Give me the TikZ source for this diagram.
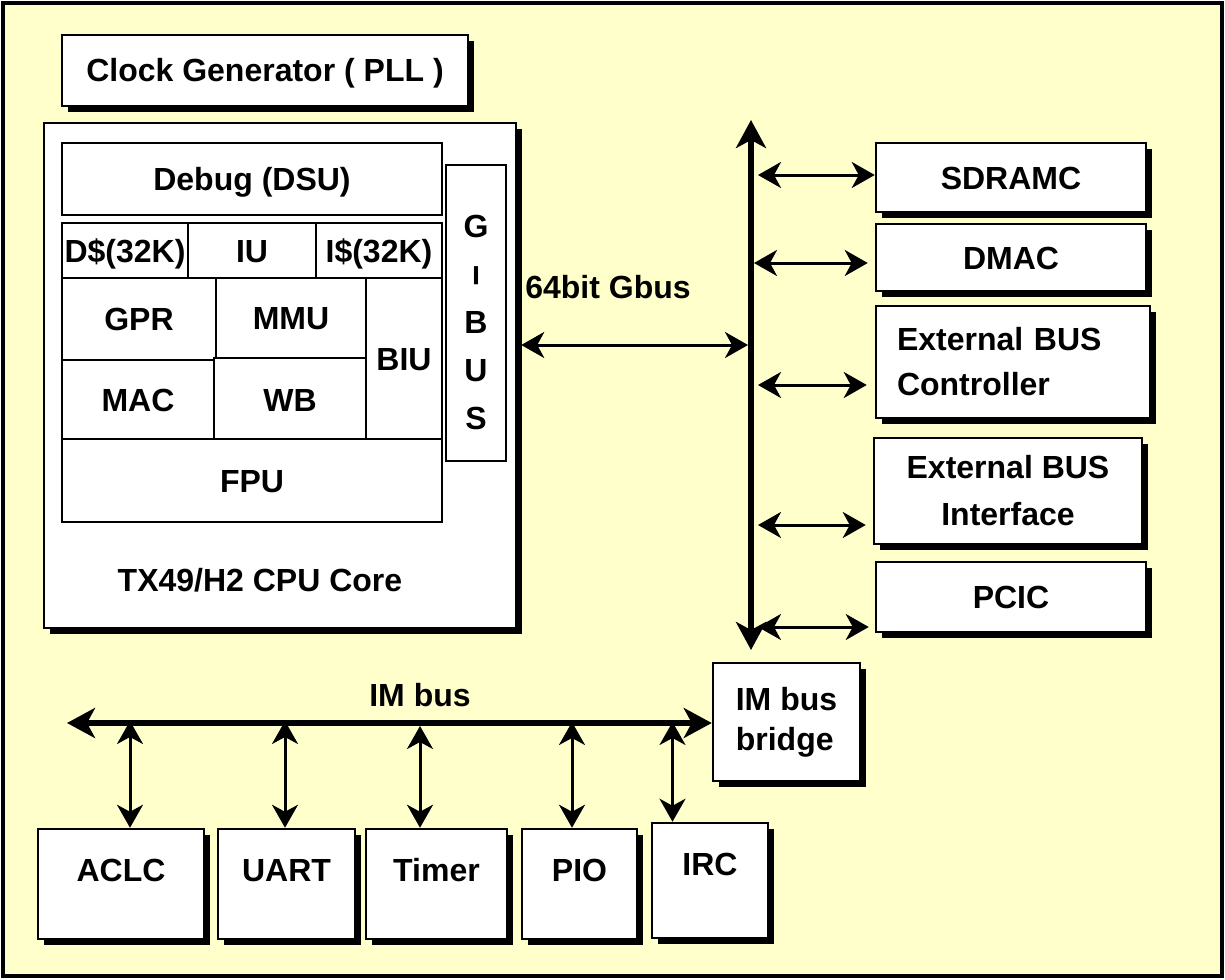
\documentclass[tikz,border=0pt]{standalone}
\usepackage{fontspec}
\setmainfont{Liberation Sans}
\usepackage{tikz}
\usetikzlibrary{arrows.meta}
\usetikzlibrary{shadows}
\usetikzlibrary{calc}
\definecolor{paper}{HTML}{FFFFCC}

\begin{document}
\begin{tikzpicture}[x=0.5pt, y=-0.5pt,
			every node/.style={font=\bfseries\fontsize{16}{20}\selectfont, align=center, inner sep=0pt},
			block/.style={draw, line width=1.25pt, fill=white, drop shadow={shadow xshift=3pt, shadow yshift=-3pt, opacity=1, fill=black}},
			unit/.style={draw, line width=1pt, fill=white},
			oneline/.style={text height=11.5pt, text depth=0pt},
			lowtext/.style={text height=11.5pt, text depth=14pt},
			link/.style={line width=1.5pt, {Stealth[length=11.5pt, width=13pt, inset=3.5pt]}-{Stealth[length=11.5pt, width=13pt, inset=3.5pt]}},
			bus/.style={line width=3pt, {Stealth[length=14pt, width=15pt, inset=4pt]}-{Stealth[length=14pt, width=15pt, inset=4pt]}}]
			\useasboundingbox (0,0) rectangle (1225,979);
			\draw[line width=2pt, fill=paper] (3,3) rectangle (1222,976);

			% CPU side
			\node[block, oneline, minimum width=203pt, minimum height=35.5pt] (clk) at (265,70.5) {Clock Generator ( PLL )};
			\node[block, minimum width=236pt, minimum height=252.5pt] (cpu) at (280,375.5) {};
			\node (corename) at (260,580) {TX49/H2 CPU Core};

			\node[unit, oneline, minimum width=190pt, minimum height=36pt] (dsu) at (252,179) {Debug (DSU)};
			\node[unit, oneline, minimum width=63pt, minimum height=27.5pt] (dcache) at (125,250.5) {D\$(32K)};
			\node[unit, oneline, minimum width=64pt, minimum height=27.5pt] (iu) at (252,250.5) {IU};
			\node[unit, oneline, minimum width=63pt, minimum height=27.5pt] (icache) at (379,250.5) {I\$(32K)};
			\node[unit, oneline, minimum width=77pt, minimum height=41pt] (gpr) at (139,319) {GPR};
			\node[unit, oneline, minimum width=75pt, minimum height=40pt] (mmu) at (291,318) {MMU};
			\node[unit, oneline, minimum width=38pt, minimum height=80.5pt] (biu) at (404,358.5) {BIU};
			\node[unit, oneline, minimum width=76pt, minimum height=39.5pt] (mac) at (138,399.5) {MAC};
			\node[unit, oneline, minimum width=76pt, minimum height=41.5pt] (wb) at (290,399.5) {WB};
			\node[unit, oneline, minimum width=190pt, minimum height=41.5pt] (fpu) at (252,480.5) {FPU};
			\node[unit, font=\bfseries\fontsize{16}{24}\selectfont, text height=116.5pt, text depth=0pt,
				minimum width=30pt, minimum height=148pt] (gbus) at (476,313) {G\\\raisebox{2.5pt}{\scalebox{1}[0.6]{|}}\\B\\U\\S};

			% Gbus side
			\coordinate (gtop) at (751,120);
			\coordinate (gbot) at (751,650);
			\node[block, oneline, minimum width=135pt, minimum height=34.5pt] (sdram) at (1011,177.5) {SDRAMC};
			\node[block, oneline, minimum width=135pt, minimum height=33.5pt] (dmac) at (1011,257.5) {DMAC};
			\node[block, align=left, text width=116pt, inner xsep=10.5pt, font=\bfseries\fontsize{16}{22.5}\selectfont,
				minimum height=56pt] (ebc) at (1013,362) {External BUS\\Controller};
			\node[block, font=\bfseries\fontsize{16}{23.5}\selectfont, minimum width=134pt, minimum height=53pt] (ebi) at (1008,491) {External BUS\\Interface};
			\node[block, oneline, minimum width=135pt, minimum height=35pt] (pcic) at (1011,597) {PCIC};
			\node[block, align=left, minimum width=73.5pt, minimum height=59pt] (bridge) at (786.5,722) {IM bus\\bridge};
			\node (gbuslabel) at (608,287) {64bit Gbus};

			\draw[bus] (gtop) -- (gbot);
			\draw[link] ($(cpu.east)+(2pt,15.25pt)$) -- ($(gtop |- cpu.east)+(-1.5pt,15.25pt)$);
			\draw[link] ($(gtop |- sdram.west)+(3.5pt,1.25pt)$) -- ($(sdram.west)+(0pt,1.25pt)$);
			\draw[link] ($(gtop |- dmac.west)+(1.5pt,-2.75pt)$) -- ($(dmac.west)+(-3.5pt,-2.75pt)$);
			\draw[link] ($(gtop |- ebc.west)+(3.5pt,-11.5pt)$) -- ($(ebc.west)+(-4pt,-11.5pt)$);
			\draw[link] ($(gtop |- ebi.west)+(3.5pt,-17pt)$) -- ($(ebi.west)+(-3.5pt,-17pt)$);
			\draw[link] ($(gtop |- pcic.west)+(3.5pt,-15pt)$) -- ($(pcic.west)+(-3pt,-15pt)$);

			% IM bus side
			\coordinate (imleft) at (67,723);
			\node (imlabel) at (420,695) {IM bus};
			\node[block, lowtext, minimum width=83pt, minimum height=55pt] (aclc) at (121,884) {ACLC};
			\node[block, lowtext, minimum width=68.5pt, minimum height=55pt] (uart) at (286.5,884) {UART};
			\node[block, lowtext, minimum width=70.5pt, minimum height=55pt] (timer) at (436.5,884) {Timer};
			\node[block, lowtext, minimum width=57.5pt, minimum height=55pt] (pio) at (579.5,884) {PIO};
			\node[block, text height=11.5pt, text depth=17pt, minimum width=58pt, minimum height=57.5pt] (irc) at (710,880.5) {IRC};

			\draw[bus] (imleft) -- (imleft -| bridge.west);
			\draw[link] ([xshift=4.5pt]aclc.north) -- ($([xshift=4.5pt]aclc.north |- imleft)+(0,1pt)$);
			\draw[link] ([xshift=-0.75pt]uart.north) -- ($([xshift=-0.75pt]uart.north |- imleft)+(0,1pt)$);
			\draw[link] ([xshift=-8.25pt]timer.north) -- ($([xshift=-8.25pt]timer.north |- imleft)+(0,-1.5pt)$);
			\draw[link] ([xshift=-3.75pt]pio.north) -- ($([xshift=-3.75pt]pio.north |- imleft)+(0,0.5pt)$);
			\draw[link] ([xshift=-18.75pt]irc.north) -- ($([xshift=-18.75pt]irc.north |- imleft)+(0,0.5pt)$);
\end{tikzpicture}
\end{document}
